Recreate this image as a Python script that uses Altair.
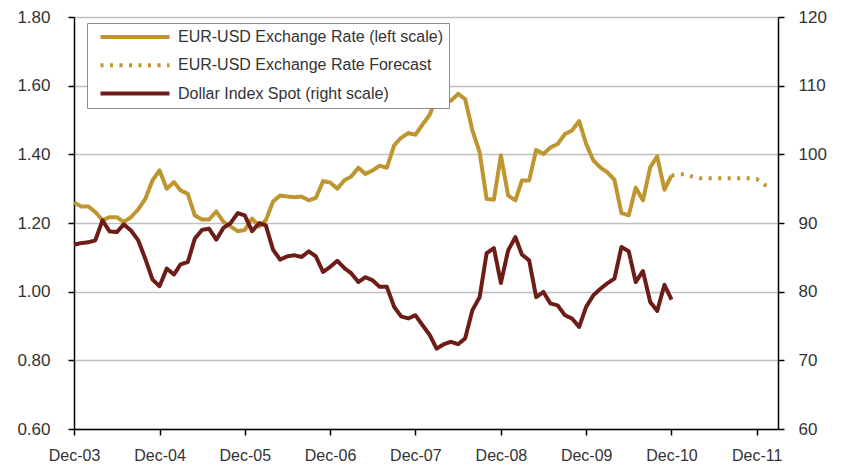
import altair as alt
import pandas as pd

# ---- data ----
months = pd.date_range("2003-12-01", "2010-12-01", freq="MS").strftime("%Y-%m-%d").tolist()

eur_usd = [
    1.260,
    1.248, 1.248, 1.232, 1.208, 1.217, 1.217, 1.203, 1.217, 1.240, 1.270, 1.324, 1.353,
    1.300, 1.319, 1.295, 1.285, 1.222, 1.210, 1.210, 1.234, 1.203, 1.190, 1.176, 1.180,
    1.213, 1.190, 1.208, 1.263, 1.280, 1.277, 1.275, 1.277, 1.266, 1.273, 1.322, 1.318,
    1.300, 1.325, 1.335, 1.361, 1.343, 1.353, 1.367, 1.361, 1.426, 1.448, 1.462, 1.457,
    1.487, 1.516, 1.570, 1.565, 1.556, 1.576, 1.561, 1.470, 1.406, 1.270, 1.268, 1.397,
    1.280, 1.266, 1.324, 1.324, 1.413, 1.401, 1.420, 1.430, 1.459, 1.469, 1.497, 1.430,
    1.382, 1.361, 1.348, 1.326, 1.229, 1.222, 1.303, 1.266, 1.362, 1.394, 1.297, 1.338,
]

dollar_index = [
    86.85,
    87.08, 87.20, 87.47, 90.38, 88.78, 88.68, 89.80, 88.90, 87.47, 84.80, 81.76, 80.80,
    83.36, 82.50, 83.98, 84.30, 87.72, 89.00, 89.17, 87.57, 89.30, 89.98, 91.44, 91.10,
    88.82, 89.98, 89.65, 86.10, 84.67, 85.15, 85.30, 85.05, 85.87, 85.15, 82.87, 83.60,
    84.50, 83.40, 82.70, 81.40, 82.10, 81.66, 80.70, 80.70, 77.80, 76.40, 76.10, 76.57,
    75.10, 73.66, 71.70, 72.35, 72.70, 72.35, 73.20, 77.30, 79.20, 85.60, 86.35, 81.27,
    86.00, 87.95, 85.40, 84.56, 79.20, 79.96, 78.27, 78.00, 76.57, 76.10, 74.87, 77.80,
    79.48, 80.45, 81.20, 81.90, 86.50, 85.90, 81.40, 83.00, 78.50, 77.20, 81.00, 78.85,
]

forecast_months = pd.date_range("2010-12-01", "2012-02-01", freq="MS").strftime("%Y-%m-%d").tolist()
forecast_values = [1.338, 1.342, 1.342, 1.335, 1.330, 1.330, 1.330, 1.330,
                   1.330, 1.330, 1.330, 1.330, 1.328, 1.312, 1.303]

series_names = [
    "EUR-USD Exchange Rate (left scale)",
    "EUR-USD Exchange Rate Forecast",
    "Dollar Index Spot (right scale)",
]

GOLD = "#BE952F"
RED = "#6E1C18"
FONT = "Liberation Sans"
TXT = "#333333"

df_eur = pd.DataFrame({"date": months, "value": eur_usd, "series": series_names[0]})
df_fc = pd.DataFrame({"date": forecast_months, "value": forecast_values, "series": series_names[1]})
df_dxy = pd.DataFrame({"date": months, "value": dollar_index, "series": series_names[2]})

tick_dates = [alt.DateTime(year=y, month=12, date=1, utc=True) for y in range(2003, 2012)]

x_enc = alt.X(
    "date:T",
    title=None,
    scale=alt.Scale(type="utc",
                    domain=[alt.DateTime(year=2003, month=12, date=1, utc=True),
                            alt.DateTime(year=2012, month=3, date=1, utc=True)]),
    axis=alt.Axis(values=tick_dates, format="%b-%y", grid=False, domainColor="black",
                  tickColor="black", tickSize=6, labelPadding=12, labelFlush=False,
                  labelOverlap=False, labelFontSize=16),
)

legend = alt.Legend(
    title=None, orient="none", legendX=13, legendY=6, fillColor="white",
    strokeColor="#8C8C8C", padding=6, symbolType="M-6.9,0H6.9", symbolSize=100,
    symbolStrokeWidth=4, symbolOffset=34, labelOffset=35, rowPadding=12.3,
    labelFont=FONT, labelFontSize=16, labelColor=TXT, labelLimit=0, zindex=1,
)

color_enc = alt.Color("series:N", scale=alt.Scale(domain=series_names, range=[GOLD, GOLD, RED]),
                      legend=legend)
dash_enc = alt.StrokeDash("series:N",
                          scale=alt.Scale(domain=series_names, range=[[1, 0], [3, 6.5], [1, 0]]),
                          legend=legend)

left_scale = alt.Scale(domain=[0.6, 1.8], nice=False)
left_axis = alt.Axis(values=[0.6, 0.8, 1.0, 1.2, 1.4, 1.6, 1.8], format=".2f", grid=True,
                     gridColor="#BFBFBF", gridWidth=1.5, domainColor="black",
                     tickColor="black", tickSize=6, labelPadding=18, labelFontSize=17,
                     title=None)

eur_line = alt.Chart(df_eur).mark_line(strokeWidth=4, strokeJoin="round").encode(
    x=x_enc, y=alt.Y("value:Q", scale=left_scale, axis=left_axis),
    color=color_enc, strokeDash=dash_enc)

fc_line = alt.Chart(df_fc).mark_line(strokeWidth=4, strokeCap="butt").encode(
    x=x_enc, y=alt.Y("value:Q", scale=left_scale, axis=left_axis),
    color=color_enc, strokeDash=dash_enc)

dxy_line = alt.Chart(df_dxy).mark_line(strokeWidth=4, strokeJoin="round").encode(
    x=x_enc,
    y=alt.Y("value:Q", scale=alt.Scale(domain=[60, 120], nice=False),
            axis=alt.Axis(orient="right", values=[60, 70, 80, 90, 100, 110, 120], grid=False,
                          domainColor="black", tickColor="black", tickSize=6,
                          labelPadding=14, labelFontSize=17, title=None)),
    color=color_enc, strokeDash=dash_enc)

chart = alt.layer(alt.layer(eur_line, fc_line), dxy_line).resolve_scale(
    y="independent"
).properties(
    width=704, height=412, autosize="none",
    padding={"left": 66, "top": 9, "right": 58, "bottom": 41},
).configure_view(stroke=None).configure_axis(
    labelFont=FONT, labelColor=TXT, domainWidth=1.5, tickWidth=1.5,
)

chart.save("out.html", embed_options={"renderer": "svg", "actions": False})
